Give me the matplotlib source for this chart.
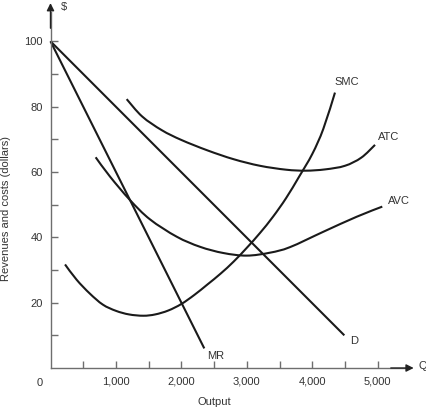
import numpy as np
import matplotlib.pyplot as plt
from matplotlib.path import Path
from matplotlib.patches import PathPatch
from matplotlib.ticker import FixedLocator, FuncFormatter

plt.rcParams['font.family'] = ['Liberation Sans', 'DejaVu Sans']

# demand and marginal revenue (straight lines)
d_q = [0, 4490]
d_p = [100, 10]
mr_q = [0, 2350]
mr_p = [100, 6]

# cost curves
smc_q = [222, 400, 600, 800, 1000, 1200, 1418, 1600, 1800, 2000, 2200, 2400,
         2600, 2800, 3000, 3200, 3400, 3600, 3800, 4000, 4169, 4347]
smc_c = [31.7, 27.0, 22.8, 19.4, 17.5, 16.4, 16.0, 16.4, 17.6, 19.6, 22.4, 25.6,
         28.9, 32.6, 36.8, 41.3, 46.3, 52.0, 58.6, 65.5, 73.2, 84.3]

atc_q = [1164, 1400, 1700, 2000, 2400, 2800, 3200, 3600, 3900, 4200, 4500, 4750, 4959]
atc_c = [82.3, 77.0, 72.8, 69.8, 66.6, 63.9, 61.9, 60.7, 60.4, 60.8, 61.9, 64.4, 68.3]

avc_q = [690, 909, 1215, 1520, 1928, 2285, 2641, 2998, 3354, 3660, 4169, 4679, 5070]
avc_c = [64.5, 58.6, 51.4, 45.5, 40.2, 37.1, 35.2, 34.4, 35.3, 37.0, 41.7, 46.3, 49.4]

x_major = [1000, 2000, 3000, 4000, 5000]
x_minor = [500, 1500, 2500, 3500, 4500]
y_major = [20, 40, 60, 80, 100]
y_minor = [10, 30, 50, 70, 90]

txt = '#333333'
axc = '#6e6e6e'
lc = '#1a1a1a'
fs = 8


def smooth_curve(ax, q, v):
    # draw through the read points as a bezier path (catmull-rom handles)
    p = np.column_stack([q, v]).astype(float)
    verts = [p[0]]
    codes = [Path.MOVETO]
    n = len(p)
    for i in range(n - 1):
        p0 = p[i - 1] if i > 0 else p[i]
        p3 = p[i + 2] if i + 2 < n else p[i + 1]
        c1 = p[i] + (p[i + 1] - p0) / 6
        c2 = p[i + 1] - (p3 - p[i]) / 6
        verts += [c1, c2, p[i + 1]]
        codes += [Path.CURVE4] * 3
    ax.add_patch(PathPatch(Path(verts, codes), fill=False, edgecolor=lc,
                           lw=1.5, capstyle='butt'))


fig = plt.figure(figsize=(4.26, 4.08), dpi=100)
ax = fig.add_axes([0, 0, 1, 1])
ax.set_xlim(-771.7, 5738)
ax.set_ylim(-12.24, 112.64)

ax.plot(d_q, d_p, color=lc, lw=1.5, solid_capstyle='butt')
ax.plot(mr_q, mr_p, color=lc, lw=1.5, solid_capstyle='butt')
smooth_curve(ax, smc_q, smc_c)
smooth_curve(ax, atc_q, atc_c)
smooth_curve(ax, avc_q, avc_c)

# axes through the origin with arrows
ax.spines['top'].set_visible(False)
ax.spines['right'].set_visible(False)
ax.spines['left'].set_position(('data', 0))
ax.spines['bottom'].set_position(('data', 0))
ax.spines['left'].set_bounds(0, 109)
ax.spines['bottom'].set_bounds(0, 5450)
for s in ['left', 'bottom']:
    ax.spines[s].set_color(axc)
    ax.spines[s].set_linewidth(1)
ax.annotate('', xy=(0, 111.7), xytext=(0, 104),
            arrowprops=dict(arrowstyle='-|>', color='#222222', lw=1,
                            mutation_scale=11, shrinkA=0, shrinkB=0))
ax.annotate('', xy=(5550, 0), xytext=(5200, 0),
            arrowprops=dict(arrowstyle='-|>', color='#222222', lw=1,
                            mutation_scale=11, shrinkA=0, shrinkB=0))

ax.xaxis.set_major_locator(FixedLocator(x_major))
ax.xaxis.set_minor_locator(FixedLocator(x_minor))
ax.yaxis.set_major_locator(FixedLocator(y_major))
ax.yaxis.set_minor_locator(FixedLocator(y_minor))
ax.xaxis.set_major_formatter(FuncFormatter(lambda v, p: f'{int(v):,}'))
ax.yaxis.set_major_formatter(FuncFormatter(lambda v, p: f'{int(v)}'))
ax.tick_params(which='both', direction='in', length=5, width=1, color=axc,
               labelsize=fs, labelcolor=txt)
ax.tick_params(axis='y', which='major', pad=5.5)
ax.tick_params(axis='x', which='major', pad=6)

ax.text(-160, -4.5, '0', fontsize=fs, color=txt, ha='center', va='center')
ax.text(203, 110.6, '$', fontsize=fs, color=txt, ha='center', va='center')
ax.text(5616, 0.7, 'Q', fontsize=fs, color=txt, ha='left', va='center')
ax.text(4347, 87.5, 'SMC', fontsize=fs, color=txt, ha='left', va='center')
ax.text(5009, 70.8, 'ATC', fontsize=fs, color=txt, ha='left', va='center')
ax.text(5162, 51.2, 'AVC', fontsize=fs, color=txt, ha='left', va='center')
ax.text(4577, 8.4, 'D', fontsize=fs, color=txt, ha='left', va='center')
ax.text(2392, 3.8, 'MR', fontsize=fs, color=txt, ha='left', va='center')
ax.text(2506, -10.3, 'Output', fontsize=fs, color=txt, ha='center', va='center')
ax.text(-680, 48.7, 'Revenues and costs (dollars)', fontsize=fs, color=txt,
        ha='center', va='center', rotation=90)

fig.savefig('out.png', dpi=100)
